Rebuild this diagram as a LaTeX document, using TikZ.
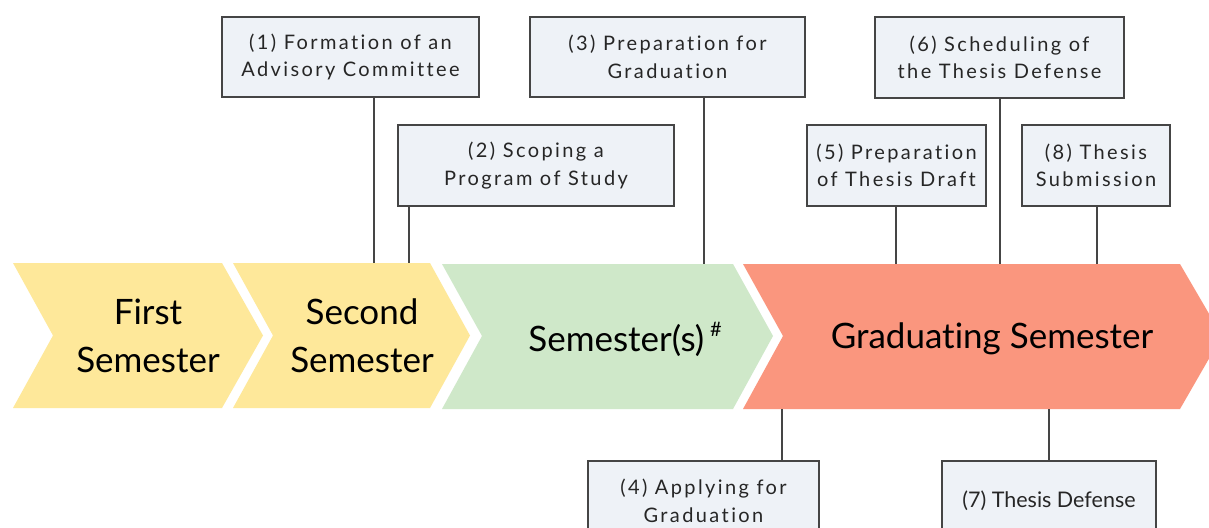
\documentclass[tikz,border=0pt]{standalone}
\usepackage{fontspec}
\setmainfont{Lato}[Ligatures={NoCommon}]
\newfontfamily\boxfont{Lato}[LetterSpace=12,Ligatures={NoCommon}]
\definecolor{yel}{HTML}{FEE89A}
\definecolor{grn}{HTML}{CFE8C9}
\definecolor{sal}{HTML}{FA967E}
\definecolor{boxfill}{HTML}{EEF2F7}
\definecolor{edge}{HTML}{454545}
\tikzset{
  stepboxn/.style={draw=edge, line width=1.3pt, fill=boxfill, align=center, inner sep=0pt,
    font=\boxfont\fontsize{20}{27.5}\selectfont, text=black!85},
  chevtext/.style={align=center, font=\fontsize{35}{48}\selectfont, text=black},
  link/.style={draw=edge, line width=1.3pt}
}
\begin{document}
\begin{tikzpicture}[x=1pt,y=-1pt]
\useasboundingbox (0,0) rectangle (1209,527);
\clip (0,0) rectangle (1209,527);
\fill[white] (0,0) rectangle (1209,527);
% chevrons
\fill[yel] (13,263) -- (222,263) -- (263,335.5) -- (222,408) -- (13,408) -- (53,335.5) -- cycle;
\fill[yel] (233,263) -- (430,263) -- (470,335.5) -- (430,408) -- (233,408) -- (273,335.5) -- cycle;
\fill[grn] (442,264) -- (733,264) -- (773,336) -- (733,409) -- (442,409) -- (482,336) -- cycle;
\fill[sal] (743,264) -- (1180,264) -- (1222,336) -- (1180,409) -- (743,409) -- (783,336) -- cycle;
\node[chevtext] (s1) at (148,336) {First\\Semester};
\node[chevtext] (s2) at (362,336) {Second\\Semester};
\node[chevtext] (s3) at (625,339) {Semester(s)\,\raisebox{15pt}{\fontsize{20}{20}\selectfont\#}};
\node[chevtext] (s4) at (992,339) {Graduating Semester};
% boxes
\node[stepboxn, minimum width=257pt, minimum height=80pt] (b1) at (350.5,57) {(1) Formation of an\\Advisory Committee};
\node[stepboxn, minimum width=276pt, minimum height=81pt] (b2) at (536,165.5) {(2) Scoping a\\Program of Study};
\node[stepboxn, minimum width=275pt, minimum height=80pt] (b3) at (667.5,57) {(3) Preparation for\\Graduation};
\node[stepboxn, minimum width=231pt, minimum height=80pt] (b4) at (703.5,501) {(4) Applying for\\Graduation};
\node[stepboxn, minimum width=179pt, minimum height=81pt] (b5) at (896.5,165.5) {(5) Preparation\\of Thesis Draft};
\node[stepboxn, minimum width=249pt, minimum height=81pt] (b6) at (999.5,57.5) {(6) Scheduling of\\the Thesis Defense};
\node[stepboxn, minimum width=214pt, minimum height=80pt, font=\fontsize{21.5}{27.5}\selectfont] (b7) at (1049,501) {(7) Thesis Defense};
\node[stepboxn, minimum width=148pt, minimum height=81pt] (b8) at (1096,165.5) {(8) Thesis\\Submission};
% anchor points on the arrow band
\coordinate (c1) at (374,263);
\coordinate (c2) at (409,263);
\coordinate (c3) at (704,264);
\coordinate (c4) at (782,409);
\coordinate (c5) at (896,264);
\coordinate (c6) at (1000,264);
\coordinate (c7) at (1049,409);
\coordinate (c8) at (1097,264);
\draw[link] (b1.south -| c1) -- (c1);
\draw[link] (b2.south -| c2) -- (c2);
\draw[link] (b3.south -| c3) -- (c3);
\draw[link] (b4.north -| c4) -- (c4);
\draw[link] (b5.south -| c5) -- (c5);
\draw[link] (b6.south -| c6) -- (c6);
\draw[link] (b7.north -| c7) -- (c7);
\draw[link] (b8.south -| c8) -- (c8);
\end{tikzpicture}
\end{document}
